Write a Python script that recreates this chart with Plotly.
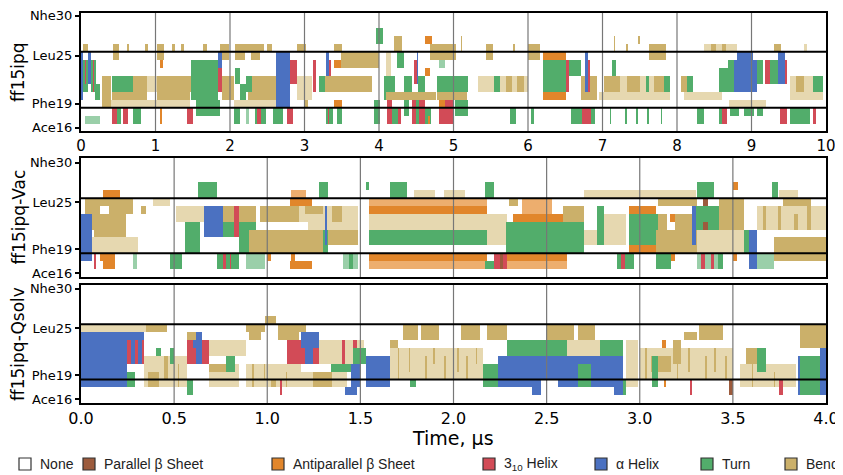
import numpy as np
import plotly.graph_objects as go

# ---------------- data ----------------
residues = list(range(16, 31))
ytick_vals = [16, 19, 25, 30]
ytick_text = ["Ace16", "Phe19", "Leu25", "Nhe30"]

p1_ticks = list(range(0, 11))
p1_ticktext = [str(v) for v in p1_ticks]
p23_ticks = [0.0, 0.5, 1.0, 1.5, 2.0, 2.5, 3.0, 3.5, 4.0]
p23_ticktext = ["%.1f" % v for v in p23_ticks]

panel_titles = ["ff15ipq", "ff15ipq-Vac", "ff15ipq-Qsolv"]
panel_tmax = [10.0, 4.0, 4.0]

state_codes = [".", "P", "A", "G", "H", "T", "S", "s", "t", "a"]
state_colors = ["#FFFFFF", "#9C5B3D", "#E1862B", "#D24B57", "#4B71C1",
                "#52AD6B", "#CBB06A", "#E6D8B0", "#9ACFA9", "#EDAE6E"]
legend_codes = [".", "P", "A", "G", "H", "T", "S"]
legend_labels = ["None", "Parallel β Sheet", "Antiparallel β Sheet",
                 "3<sub>10</sub> Helix", "α Helix", "Turn", "Bend"]

# blocks: (t_start, t_end, residue_low, residue_high, state)
# lowercase = frequently flickering (faint) regions
ff15ipq_blocks = [
    (0.03, 0.09, 26, 26, "S"), (0.43, 0.51, 25, 26, "S"), (0.86, 0.90, 26, 26, "S"),
    (1.02, 1.11, 25, 26, "S"), (1.06, 1.10, 24, 24, "A"), (1.22, 1.26, 26, 26, "S"),
    (1.34, 1.38, 26, 26, "S"), (1.64, 1.69, 26, 26, "S"), (1.87, 1.99, 25, 26, "S"),
    (2.07, 2.45, 26, 26, "S"), (2.07, 2.20, 25, 25, "S"), (2.28, 2.40, 25, 25, "S"),
    (2.49, 2.56, 26, 26, "S"),
    (0.00, 0.03, 20, 25, "H"), (0.03, 0.09, 21, 24, "T"), (0.05, 0.07, 22, 24, "G"),
    (0.09, 0.14, 22, 25, "H"), (0.14, 0.20, 21, 24, "T"), (0.16, 0.18, 21, 24, "G"),
    (0.19, 0.25, 20, 21, "T"),
    (0.28, 1.46, 19, 19, "s"), (0.88, 1.02, 21, 22, "s"), (0.05, 0.25, 17, 17, "t"),
    (0.28, 0.40, 19, 22, "S"), (0.41, 0.70, 21, 22, "T"), (0.41, 0.88, 20, 20, "S"),
    (0.70, 0.88, 20, 22, "S"), (1.02, 1.46, 20, 22, "S"), (1.46, 1.50, 21, 22, "S"),
    (1.47, 1.84, 20, 24, "T"), (1.55, 1.87, 18, 19, "T"), (1.84, 1.89, 21, 25, "G"),
    (1.84, 1.89, 24, 25, "H"), (1.89, 2.05, 20, 22, "S"), (2.07, 2.13, 22, 23, "T"),
    (2.13, 2.22, 20, 21, "T"), (2.24, 2.65, 20, 22, "S"), (2.22, 2.30, 21, 22, "T"),
    (2.05, 2.62, 19, 19, "s"), (2.62, 2.80, 19, 25, "H"), (2.80, 2.90, 22, 24, "G"),
    (0.41, 0.48, 17, 18, "G"), (0.48, 0.54, 17, 18, "T"), (0.57, 0.63, 17, 18, "G"),
    (0.70, 0.80, 17, 18, "T"), (1.06, 1.09, 17, 18, "A"), (1.42, 1.50, 17, 18, "G"),
    (2.05, 2.13, 17, 18, "T"), (2.22, 2.26, 17, 18, "t"), (2.33, 2.36, 17, 18, "T"),
    (2.36, 2.42, 17, 18, "G"), (2.42, 2.48, 17, 18, "T"), (2.58, 2.71, 17, 18, "T"),
    (2.76, 2.85, 17, 18, "G"),
    (2.90, 3.02, 26, 26, "S"), (2.90, 3.10, 20, 22, "s"), (3.11, 3.16, 21, 24, "G"),
    (3.29, 3.33, 21, 25, "H"), (3.33, 3.36, 21, 24, "G"), (3.40, 3.49, 24, 24, "A"),
    (3.40, 3.51, 26, 26, "S"), (3.49, 4.00, 24, 25, "S"), (3.20, 3.91, 21, 22, "S"),
    (3.20, 3.27, 21, 22, "T"), (3.96, 4.05, 27, 28, "T"), (4.20, 4.31, 26, 27, "S"),
    (4.10, 4.16, 23, 25, "s"), (4.07, 4.22, 20, 22, "T"), (4.24, 4.33, 24, 25, "T"),
    (4.10, 4.76, 20, 20, "S"), (4.33, 4.44, 21, 22, "T"), (4.53, 4.62, 21, 22, "T"),
    (4.47, 4.53, 22, 24, "G"), (4.51, 4.53, 22, 25, "H"), (4.62, 4.69, 23, 23, "A"),
    (4.62, 4.71, 27, 27, "A"), (4.69, 5.04, 25, 26, "S"), (4.78, 5.20, 21, 22, "T"),
    (4.78, 5.18, 20, 20, "S"), (4.80, 4.88, 24, 24, "t"), (5.33, 6.00, 21, 22, "s"),
    (5.55, 5.62, 21, 22, "T"), (5.70, 5.78, 21, 22, "S"), (5.85, 5.95, 21, 22, "S"),
    (5.44, 5.53, 25, 26, "S"), (6.00, 6.16, 25, 26, "S"), (6.20, 6.51, 25, 25, "A"),
    (6.20, 6.51, 21, 24, "T"), (6.20, 6.51, 20, 20, "A"), (6.51, 6.55, 21, 24, "G"),
    (6.55, 6.71, 23, 24, "T"), (6.71, 6.93, 21, 22, "S"), (6.76, 6.80, 21, 25, "H"),
    (6.80, 6.83, 21, 24, "G"), (6.71, 6.93, 20, 20, "S"),
    (3.00, 3.05, 19, 19, "S"), (3.29, 3.38, 17, 18, "T"), (3.31, 3.33, 17, 18, "G"),
    (3.40, 3.51, 19, 19, "A"), (3.44, 3.51, 17, 18, "T"), (3.93, 4.02, 17, 19, "T"),
    (4.11, 4.18, 17, 19, "G"), (4.18, 4.26, 17, 18, "T"), (4.26, 4.30, 17, 18, "G"),
    (4.33, 4.40, 18, 19, "T"), (4.44, 4.62, 17, 19, "G"), (4.50, 4.54, 17, 19, "T"),
    (4.62, 4.70, 17, 18, "T"), (4.66, 4.69, 17, 17, "A"), (4.80, 5.00, 17, 19, "G"),
    (4.80, 4.88, 19, 19, "A"), (5.02, 5.20, 18, 19, "T"), (5.76, 5.84, 17, 18, "T"),
    (6.04, 6.08, 17, 18, "T"), (6.58, 6.73, 17, 18, "T"), (6.73, 6.84, 17, 18, "G"),
    (6.84, 6.90, 17, 18, "T"),
    (7.13, 7.18, 23, 24, "T"), (7.62, 7.85, 25, 26, "S"), (7.02, 7.91, 21, 22, "s"),
    (7.02, 7.24, 21, 22, "S"), (7.33, 7.51, 21, 22, "S"), (7.58, 7.62, 21, 22, "T"),
    (7.69, 7.91, 21, 22, "S"), (7.82, 7.91, 21, 22, "T"), (6.95, 7.91, 20, 20, "s"),
    (8.05, 8.22, 21, 22, "S"), (8.14, 8.22, 21, 22, "T"), (8.36, 8.80, 26, 26, "s"),
    (8.45, 8.52, 26, 26, "S"), (8.60, 8.66, 26, 26, "S"), (8.10, 8.60, 20, 20, "s"),
    (8.56, 8.69, 21, 23, "T"), (8.69, 8.76, 21, 24, "T"), (8.76, 9.07, 21, 24, "H"),
    (8.80, 9.02, 25, 25, "H"), (9.07, 9.16, 22, 24, "T"), (9.18, 9.25, 22, 24, "G"),
    (9.25, 9.36, 22, 24, "T"), (9.36, 9.45, 22, 25, "H"), (9.45, 9.47, 22, 24, "G"),
    (9.52, 9.96, 20, 22, "s"), (9.60, 9.70, 21, 22, "S"), (9.83, 9.96, 21, 22, "T"),
    (9.30, 9.40, 26, 26, "S"), (9.70, 9.75, 26, 26, "s"), (8.70, 9.20, 19, 19, "s"),
    (7.10, 7.12, 17, 18, "T"), (7.30, 7.33, 17, 18, "T"), (7.45, 7.47, 17, 18, "T"),
    (7.60, 7.63, 17, 18, "T"), (7.78, 7.80, 17, 18, "T"), (8.27, 8.36, 17, 18, "T"),
    (8.56, 8.60, 17, 18, "T"), (8.60, 8.67, 17, 18, "G"), (8.71, 8.83, 18, 18, "T"),
    (8.90, 9.03, 18, 18, "T"), (9.07, 9.16, 18, 18, "T"), (9.38, 9.47, 17, 18, "G"),
    (9.52, 9.78, 17, 18, "T"), (9.83, 9.87, 17, 18, "G"),
    (7.15, 7.17, 26, 27, "S"), (7.32, 7.34, 26, 26, "S"), (7.48, 7.50, 27, 27, "S"),
    (5.10, 5.12, 26, 27, "S"), (5.80, 5.82, 26, 26, "S"), (0.62, 0.64, 26, 26, "S"),
]

vac_blocks = [
    (0.12, 0.21, 26, 26, "A"), (0.11, 0.14, 25, 25, "A"), (0.02, 0.14, 22, 25, "S"),
    (0.14, 0.28, 24, 25, "S"), (0.10, 0.15, 24, 24, "."), (0.07, 0.24, 21, 23, "S"),
    (0.00, 0.06, 18, 23, "H"), (0.06, 0.31, 19, 20, "s"), (0.32, 0.35, 24, 24, "S"),
    (0.39, 0.48, 25, 25, "s"), (0.12, 0.18, 17, 18, "A"), (0.10, 0.12, 18, 18, "A"),
    (0.07, 0.08, 17, 18, "G"), (0.28, 0.30, 17, 18, "t"), (0.48, 0.54, 17, 18, "T"),
    (0.63, 0.73, 26, 27, "T"), (0.51, 0.67, 23, 24, "s"), (0.56, 0.64, 19, 22, "T"),
    (0.66, 0.76, 21, 24, "H"), (0.76, 0.86, 21, 22, "T"), (0.76, 0.94, 23, 24, "S"),
    (0.82, 0.85, 21, 24, "G"), (0.85, 0.94, 19, 22, "T"), (0.90, 1.30, 19, 21, "S"),
    (0.96, 1.17, 23, 24, "S"), (1.12, 1.24, 25, 25, "A"), (1.00, 1.02, 18, 18, "A"),
    (0.73, 0.85, 17, 18, "T"), (0.76, 0.78, 17, 18, "G"), (0.80, 0.81, 17, 18, "G"),
    (0.89, 0.99, 17, 18, "t"), (1.12, 1.24, 17, 17, "A"), (1.13, 1.15, 18, 18, "A"),
    (1.17, 1.49, 23, 24, "s"), (1.20, 1.30, 24, 24, "S"), (1.35, 1.40, 23, 24, "S"),
    (1.22, 1.49, 22, 22, "s"), (1.30, 1.33, 19, 21, "T"), (1.31, 1.32, 20, 24, "H"),
    (1.33, 1.49, 20, 21, "S"), (1.28, 1.33, 26, 27, "T"), (1.13, 1.21, 26, 26, "a"),
    (1.41, 1.49, 17, 18, "t"), (1.44, 1.46, 17, 18, "T"),
    (1.55, 2.18, 24, 24, "A"), (1.55, 2.18, 25, 25, "a"), (1.55, 2.18, 22, 23, "s"),
    (1.55, 2.18, 20, 21, "T"), (1.55, 2.18, 18, 18, "A"), (1.55, 2.18, 17, 17, "a"),
    (1.66, 1.75, 26, 27, "T"), (1.53, 1.55, 27, 27, "T"), (1.79, 1.90, 26, 26, "s"),
    (1.95, 2.06, 26, 26, "s"), (2.17, 2.22, 26, 27, "T"), (2.17, 2.27, 17, 17, "T"),
    (2.22, 2.29, 17, 18, "G"), (2.25, 2.27, 17, 18, "P"), (2.18, 2.29, 20, 23, "s"),
    (2.28, 2.61, 19, 22, "T"), (2.32, 2.61, 23, 23, "A"), (2.37, 2.53, 24, 25, "a"),
    (2.30, 2.35, 25, 25, "S"), (2.29, 2.61, 18, 18, "A"), (2.29, 2.61, 17, 17, "a"),
    (2.61, 2.70, 19, 22, "T"), (2.59, 2.70, 23, 24, "S"), (2.70, 2.77, 20, 21, "s"),
    (2.77, 2.81, 20, 24, "T"), (2.81, 2.93, 20, 23, "s"), (2.94, 3.09, 24, 24, "A"),
    (2.94, 3.10, 20, 23, "T"), (2.94, 3.09, 19, 19, "A"), (3.10, 3.15, 22, 23, "S"),
    (3.16, 3.19, 23, 23, "A"), (3.10, 3.31, 25, 25, "S"), (3.09, 3.31, 19, 21, "S"),
    (3.19, 3.28, 22, 23, "S"), (3.16, 3.19, 18, 18, "A"), (3.28, 3.30, 20, 24, "H"),
    (3.30, 3.43, 22, 24, "T"), (3.34, 3.37, 25, 25, "P"), (3.34, 3.37, 22, 22, "P"),
    (3.43, 3.56, 22, 25, "S"), (3.50, 3.53, 27, 27, "A"), (3.31, 3.40, 26, 27, "T"),
    (3.30, 3.56, 19, 21, "s"), (3.56, 3.63, 19, 21, "T"), (3.59, 3.63, 17, 21, "H"),
    (3.63, 3.72, 17, 18, "t"), (3.63, 4.00, 22, 24, "s"), (3.72, 4.00, 18, 20, "S"),
    (3.77, 3.92, 25, 25, "S"), (3.71, 3.74, 26, 27, "T"), (2.88, 2.97, 17, 18, "T"),
    (2.90, 2.92, 17, 18, "G"), (3.09, 3.17, 17, 18, "T"), (3.31, 3.42, 17, 18, "t"),
    (3.33, 3.35, 17, 18, "G"), (3.38, 3.40, 17, 18, "G"), (3.42, 3.45, 17, 18, "T"),
    (3.50, 3.52, 18, 18, "A"), (2.70, 3.30, 26, 26, "s"), (3.75, 3.85, 26, 26, "s"),
    (3.66, 3.68, 22, 24, "S"), (3.74, 3.76, 22, 24, "S"), (3.83, 3.85, 22, 23, "S"),
    (3.90, 3.92, 22, 24, "S"),
]

qsolv_blocks = [
    (0.00, 0.35, 25, 25, "s"), (0.00, 0.34, 21, 24, "H"), (0.00, 0.25, 18, 20, "H"),
    (0.25, 0.34, 21, 23, "G"), (0.27, 0.29, 21, 24, "H"), (0.31, 0.33, 21, 24, "H"),
    (0.25, 0.29, 18, 19, "T"), (0.35, 0.46, 25, 25, "S"), (0.40, 0.43, 22, 22, "T"),
    (0.48, 0.50, 21, 22, "T"), (0.34, 0.57, 18, 21, "s"), (0.36, 0.42, 18, 19, "S"),
    (0.57, 0.60, 17, 18, "T"), (0.57, 0.69, 21, 23, "G"), (0.60, 0.65, 23, 24, "H"),
    (0.62, 0.65, 21, 22, "H"), (0.57, 0.62, 24, 24, "S"), (0.69, 0.85, 18, 20, "s"),
    (0.69, 0.80, 20, 20, "S"), (0.78, 0.83, 20, 21, "T"), (0.89, 0.99, 25, 25, "S"),
    (0.90, 0.97, 24, 24, "S"), (0.69, 0.89, 22, 23, "s"), (0.99, 1.05, 26, 26, "S"),
    (1.06, 1.17, 24, 25, "S"), (1.13, 1.15, 21, 23, "G"), (0.89, 1.18, 18, 20, "s"),
    (1.02, 1.05, 18, 18, "S"), (1.07, 1.08, 17, 18, "G"),
    (1.11, 1.28, 21, 23, "G"), (1.18, 1.28, 23, 24, "H"), (1.20, 1.25, 21, 22, "H"),
    (1.17, 1.21, 25, 25, "S"), (1.28, 1.52, 21, 23, "s"), (1.40, 1.42, 21, 23, "G"),
    (1.46, 1.48, 21, 23, "G"), (1.34, 1.50, 20, 20, "T"), (1.18, 1.43, 18, 19, "s"),
    (1.25, 1.35, 18, 19, "S"), (1.42, 1.48, 17, 17, "H"), (1.45, 1.50, 18, 20, "H"),
    (1.46, 1.53, 21, 22, "T"), (1.53, 1.66, 18, 21, "H"), (1.66, 1.70, 23, 23, "S"),
    (1.73, 1.81, 24, 25, "S"), (1.83, 1.92, 24, 25, "S"), (1.66, 2.00, 19, 22, "s"),
    (1.77, 1.80, 18, 18, "T"), (2.04, 2.14, 24, 25, "S"), (2.18, 2.29, 24, 25, "S"),
    (2.00, 2.16, 19, 22, "s"), (2.16, 2.24, 18, 20, "T"), (2.24, 2.56, 19, 21, "H"),
    (2.24, 2.42, 18, 18, "H"), (2.42, 2.47, 17, 18, "H"), (2.29, 2.61, 22, 23, "T"),
    (2.50, 2.60, 24, 25, "S"),
    (2.56, 2.74, 18, 21, "H"), (2.67, 2.74, 18, 20, "T"), (2.56, 2.61, 22, 23, "T"),
    (2.74, 2.91, 18, 21, "H"), (2.86, 2.91, 17, 17, "H"), (2.79, 2.91, 22, 23, "T"),
    (2.60, 2.65, 24, 25, "S"), (2.67, 2.76, 24, 25, "S"), (2.61, 2.79, 22, 23, "s"),
    (2.91, 2.93, 17, 18, "T"), (2.93, 2.99, 18, 23, "s"), (3.00, 3.50, 19, 22, "s"),
    (3.06, 3.17, 20, 21, "S"), (3.07, 3.10, 18, 21, "T"), (3.12, 3.14, 23, 23, "A"),
    (3.13, 3.14, 18, 18, "A"), (3.18, 3.22, 21, 23, "S"), (3.24, 3.31, 24, 24, "S"),
    (3.32, 3.45, 24, 25, "S"), (3.27, 3.28, 17, 18, "G"), (3.48, 3.50, 17, 18, "P"),
    (3.57, 3.68, 21, 22, "S"), (3.63, 3.68, 20, 22, "T"), (3.54, 3.84, 18, 20, "s"),
    (3.75, 3.77, 17, 18, "G"), (3.86, 4.00, 23, 25, "S"), (3.85, 3.99, 17, 21, "T"),
    (3.97, 4.00, 17, 22, "H"), (3.85, 3.86, 17, 21, "H"),
    (0.45, 0.47, 19, 21, "S"), (0.52, 0.53, 18, 20, "S"), (0.92, 0.93, 18, 20, "S"),
    (0.98, 0.99, 19, 20, "S"), (1.10, 1.11, 18, 19, "S"), (1.70, 1.71, 19, 22, "S"),
    (1.76, 1.77, 20, 22, "S"), (1.85, 1.86, 19, 21, "S"), (1.89, 1.90, 21, 22, "S"),
    (1.95, 1.96, 19, 21, "S"), (2.02, 2.03, 20, 22, "S"), (2.07, 2.08, 19, 21, "S"),
    (2.12, 2.13, 21, 22, "S"), (3.03, 3.04, 19, 22, "S"), (3.20, 3.21, 19, 20, "S"),
    (3.26, 3.27, 20, 22, "S"), (3.35, 3.36, 19, 21, "S"), (3.40, 3.41, 20, 22, "S"),
    (3.46, 3.47, 19, 21, "S"), (3.60, 3.61, 18, 20, "S"), (3.72, 3.73, 18, 19, "S"),
]

panel_blocks = [ff15ipq_blocks, vac_blocks, qsolv_blocks]

# ---------------- build grids ----------------
code_index = {c: i for i, c in enumerate(state_codes)}


def build_grid(blocks, tmax, ncols=1000):
    dt = tmax / ncols
    centers = (np.arange(ncols) + 0.5) * dt
    z = np.zeros((len(residues), ncols), dtype=int)
    for faint_pass in (True, False):
        for t0, t1, r0, r1, code in blocks:
            if code.islower() != faint_pass:
                continue
            cols = (centers >= t0) & (centers < t1)
            z[r0 - residues[0]: r1 - residues[0] + 1, cols] = code_index[code]
    return centers, z


n = len(state_codes)
colorscale = []
for k, c in enumerate(state_colors):
    colorscale.append([k / n, c])
    colorscale.append([(k + 1) / n, c])

# page body has an 8px margin: figure is sized so it fills the 843x475 window
OFF = 8
W, H = 843 - OFF, 475 - OFF


def px(x):
    return (x - OFF) / W


def py(y):
    return 1 - (y - OFF) / H


x_dom = [px(81), px(826)]
panel_px = [(13, 131), (158, 277), (285, 403)]
y_ranges = [[15.6, 30.35], [15.5, 30.6], [15.5, 30.5]]

fig = go.Figure()
axis_font = dict(family="DejaVu Sans", color="black")

for i in range(3):
    xs, z = build_grid(panel_blocks[i], panel_tmax[i])
    sfx = "" if i == 0 else str(i + 1)
    fig.add_trace(go.Heatmap(
        x=xs, y=residues, z=z, colorscale=colorscale, zmin=-0.5, zmax=n - 0.5,
        showscale=False, hoverinfo="skip", xaxis="x" + sfx, yaxis="y" + sfx))
    top, bot = panel_px[i]
    dom_y = [py(bot), py(top)]
    if i == 0:
        tv, tt, fs, show = p1_ticks, p1_ticktext, 15, True
    elif i == 1:
        tv, tt, fs, show = p23_ticks, p23_ticktext, 16, False
    else:
        tv, tt, fs, show = p23_ticks, p23_ticktext, 16, True
    fig.update_layout(**{
        "xaxis" + sfx: dict(domain=x_dom, range=[0, panel_tmax[i]], anchor="y" + sfx,
                            tickvals=tv, ticktext=tt, showticklabels=show,
                            tickfont=dict(size=fs, **axis_font), ticks="",
                            showgrid=False, zeroline=False, showline=True, mirror=True,
                            linecolor="black", linewidth=2, automargin=False),
        "yaxis" + sfx: dict(domain=dom_y, range=y_ranges[i], anchor="x" + sfx,
                            tickvals=ytick_vals, ticktext=ytick_text,
                            tickfont=dict(size=13, **axis_font), ticks="outside",
                            ticklen=4, tickwidth=1.5, tickcolor="black",
                            showgrid=False, zeroline=False, showline=True, mirror=True,
                            linecolor="black", linewidth=2, automargin=False),
    })
    xr = "x" + sfx
    yr = "y" + sfx
    for v in tv[1:-1]:
        fig.add_shape(type="line", xref=xr, yref=yr + " domain", x0=v, x1=v, y0=0, y1=1,
                      line=dict(color="#777777", width=1.2), layer="above")
    for v in (18.5, 25.5):
        fig.add_shape(type="line", xref=xr + " domain", yref=yr, x0=0, x1=1, y0=v, y1=v,
                      line=dict(color="black", width=2), layer="above")
    fig.add_annotation(text=panel_titles[i], xref="paper", yref="paper",
                       x=px(18), y=py((top + bot) / 2), textangle=-90,
                       showarrow=False, xanchor="center", yanchor="middle",
                       borderpad=0, font=dict(size=17, **axis_font))

fig.add_annotation(text="Time, µs", xref="paper", yref="paper", x=px(453), y=py(438),
                   showarrow=False, xanchor="center", yanchor="middle",
                   font=dict(size=19, **axis_font))

# legend
box_left = [19, 83, 272, 483, 595, 701, 785]
for bx, code, lab in zip(box_left, legend_codes, legend_labels):
    fig.add_shape(type="rect", xref="paper", yref="paper",
                  x0=px(bx), x1=px(bx + 12), y0=py(470), y1=py(458),
                  fillcolor=state_colors[code_index[code]],
                  line=dict(color="#333333", width=1.2))
    fig.add_annotation(text=lab, xref="paper", yref="paper", x=px(bx + 19), y=py(464),
                       showarrow=False, xanchor="left", yanchor="middle",
                       font=dict(size=14, family="Liberation Sans", color="#222222"))

fig.update_layout(width=W, height=H, margin=dict(l=0, r=0, t=0, b=0, autoexpand=False),
                  paper_bgcolor="white", plot_bgcolor="white", showlegend=False)

fig.write_html("out.html")
